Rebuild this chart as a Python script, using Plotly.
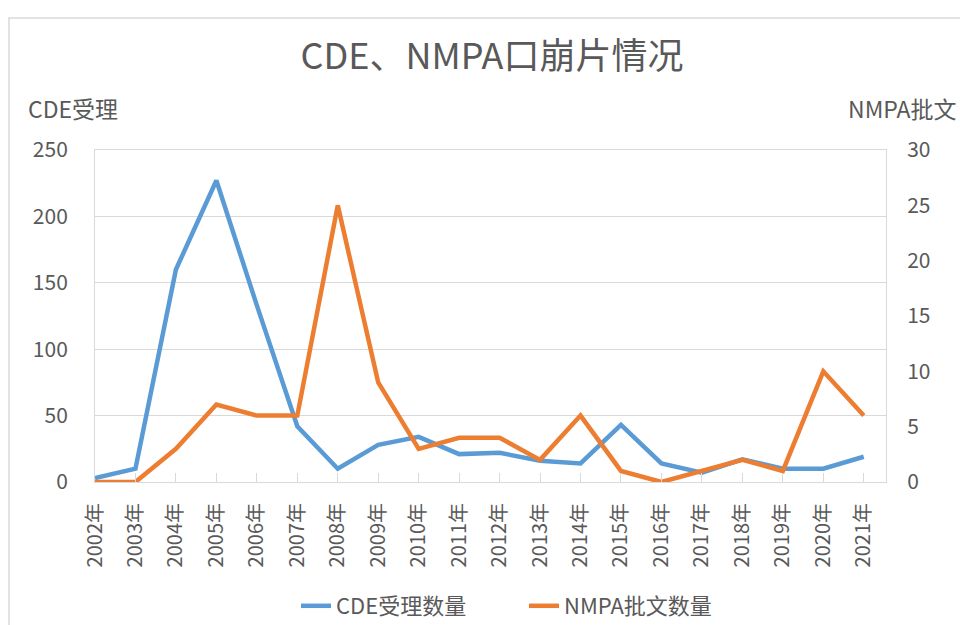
import plotly.graph_objects as go

years = ["2002年", "2003年", "2004年", "2005年", "2006年", "2007年", "2008年", "2009年", "2010年", "2011年",
         "2012年", "2013年", "2014年", "2015年", "2016年", "2017年", "2018年", "2019年", "2020年", "2021年"]
cde_accepted = [3, 10, 160, 227, 133, 42, 10, 28, 34, 21, 22, 16, 14, 43, 14, 7, 17, 10, 10, 19]
nmpa_approved = [0, 0, 3, 7, 6, 6, 25, 9, 3, 4, 4, 2, 6, 1, 0, 1, 2, 1, 10, 6]
left_ticks = [0, 50, 100, 150, 200, 250]
right_ticks = [0, 5, 10, 15, 20, 25, 30]

FONT = "Noto Sans CJK SC"
GRAY = "#595959"
GRID = "#d9d9d9"

fig = go.Figure()
fig.add_trace(go.Scatter(x=years, y=cde_accepted, name="CDE受理数量", mode="lines",
                         line=dict(color="#5B9BD5", width=4.5), yaxis="y"))
fig.add_trace(go.Scatter(x=years, y=nmpa_approved, name="NMPA批文数量", mode="lines",
                         line=dict(color="#ED7D31", width=4.5), yaxis="y2"))

W, H = 960, 625
L, R, T, B = 95, 74, 150, 143
pw = W - L - R
ph = H - T - B

def px(x):
    return (x - L) / pw

def py(y):
    return (H - B - y) / ph

fig.update_layout(
    width=W, height=H,
    margin=dict(l=L, r=R, t=T, b=B, autoexpand=False),
    paper_bgcolor="white", plot_bgcolor="white",
    font=dict(family=FONT, color=GRAY, size=19),
    title=dict(text="CDE、NMPA口崩片情况", font=dict(family=FONT, size=36, color=GRAY),
               xref="container", x=492 / W, xanchor="center",
               yref="container", y=1 - 56 / H, yanchor="middle"),
    showlegend=True,
    legend=dict(orientation="h", x=px(524), xanchor="center", y=py(606), yanchor="middle",
                font=dict(family=FONT, size=22, color=GRAY), entrywidth=183,
                bgcolor="rgba(0,0,0,0)"),
    xaxis=dict(type="category", range=[0, 19.55], tickangle=-90, automargin=False,
               showgrid=False, showline=True, linecolor=GRID, linewidth=1, mirror=True,
               ticks="inside", ticklen=9, tickcolor=GRID,
               tickfont=dict(family=FONT, size=20, color=GRAY), ticklabelstandoff=12),
    yaxis=dict(range=[0, 250], tickvals=left_ticks, showgrid=True, gridcolor=GRID, gridwidth=1,
               zeroline=False, showline=True, linecolor=GRID, linewidth=1, automargin=False,
               tickfont=dict(family=FONT, size=21, color=GRAY), ticklabelstandoff=22),
    yaxis2=dict(range=[0, 30], tickvals=right_ticks, overlaying="y", side="right", automargin=False,
                showgrid=False, zeroline=False, showline=True, linecolor=GRID, linewidth=1,
                tickfont=dict(family=FONT, size=21, color=GRAY), ticklabelstandoff=16),
    annotations=[
        dict(text="CDE受理", xref="paper", yref="paper", x=px(26), y=py(108),
             xanchor="left", yanchor="middle", showarrow=False,
             font=dict(family=FONT, size=23, color=GRAY)),
        dict(text="NMPA批文", xref="paper", yref="paper", x=px(959), y=py(108),
             xanchor="right", yanchor="middle", showarrow=False,
             font=dict(family=FONT, size=23, color=GRAY)),
    ],
    shapes=[
        dict(type="rect", xref="paper", yref="paper", x0=px(9), x1=px(975), y0=py(660), y1=py(18),
             line=dict(color="#d9d9d9", width=1.5), layer="below"),
    ],
)

fig.write_html("out.html", config={"displayModeBar": False},
               post_script="document.body.style.margin='0';document.body.style.overflow='hidden';")
